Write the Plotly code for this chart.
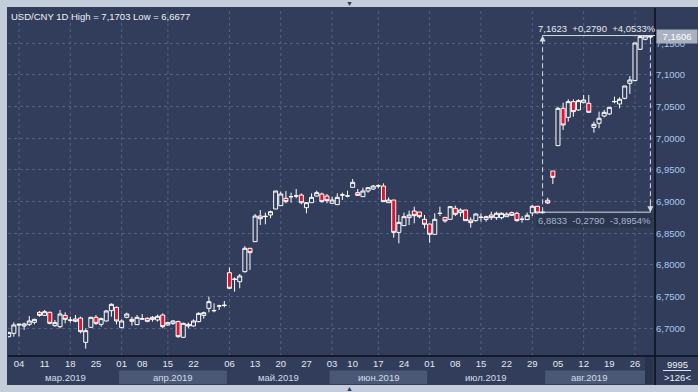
import pandas as pd
import plotly.graph_objects as go

# ---------------- data ----------------
holidays = ["2019-04-05", "2019-05-01", "2019-05-02", "2019-05-03", "2019-06-07"]
dates = [d.strftime("%Y-%m-%d") for d in pd.bdate_range("2019-02-28", "2019-08-29")
         if d.strftime("%Y-%m-%d") not in holidays]

opens = [6.6866, 6.6919, 6.7050, 6.7035, 6.7061, 6.7093, 6.7251, 6.7203, 6.7251, 6.7040,
         6.7024, 6.7203, 6.7130, 6.7146, 6.7161, 6.6777, 6.7014, 6.7172, 6.7061, 6.7114,
         6.7277, 6.7330, 6.7009, 6.7172, 6.7140, 6.7056, 6.7151, 6.7156, 6.7140, 6.7130,
         6.7209, 6.7051, 6.7077, 6.7104, 6.6856, 6.7061, 6.7035, 6.7104, 6.7203, 6.7314,
         6.7280, 6.7352, 6.7360, 6.7877, 6.7770, 6.7735, 6.7893, 6.8262, 6.8367, 6.8772,
         6.8762, 6.8788, 6.8883, 6.8936, 6.9052, 6.9078, 6.9088, 6.9104, 6.8904, 6.8983,
         6.9088, 6.9120, 6.9088, 6.8973, 6.8952, 6.9104, 6.9088, 6.9225, 6.9141, 6.9078,
         6.9167, 6.9199, 6.9246, 6.9246, 6.8983, 6.9025, 6.8514, 6.8620, 6.8746, 6.8851,
         6.8836, 6.8720, 6.8646, 6.8483, 6.8815, 6.8751, 6.8720, 6.8894, 6.8825, 6.8867,
         6.8709, 6.8699, 6.8751, 6.8720, 6.8788, 6.8746, 6.8746, 6.8762, 6.8825, 6.8815,
         6.8720, 6.8715, 6.8820, 6.8926, 6.8820, 6.9021, 6.9483, 6.9884, 7.0473, 7.0331,
         7.0579, 7.0447, 7.0563, 7.0553, 7.0173, 7.0237, 7.0352, 7.0384, 7.0579, 7.0542,
         7.0631, 7.0868, 7.0911, 7.1406, 7.1564, 7.1600]
highs = [6.6945, 6.7093, 6.7072, 6.7088, 6.7193, 6.7151, 6.7272, 6.7288, 6.7261, 6.7130,
         6.7288, 6.7251, 6.7182, 6.7209, 6.7182, 6.6998, 6.7182, 6.7209, 6.7167, 6.7288,
         6.7393, 6.7340, 6.7140, 6.7245, 6.7182, 6.7209, 6.7224, 6.7172, 6.7193, 6.7214,
         6.7235, 6.7104, 6.7130, 6.7119, 6.7088, 6.7088, 6.7140, 6.7251, 6.7261, 6.7498,
         6.7393, 6.7372, 6.7430, 6.7962, 6.7803, 6.7856, 6.8298, 6.8262, 6.8804, 6.8867,
         6.8825, 6.8857, 6.9167, 6.9157, 6.9167, 6.9141, 6.9199, 6.9130, 6.8983, 6.9130,
         6.9172, 6.9141, 6.9120, 6.9078, 6.9130, 6.9141, 6.9172, 6.9357, 6.9199, 6.9220,
         6.9220, 6.9262, 6.9273, 6.9288, 6.9067, 6.9025, 6.8788, 6.8825, 6.8857, 6.8920,
         6.8836, 6.8788, 6.8646, 6.8815, 6.8920, 6.8751, 6.8930, 6.8936, 6.8894, 6.8867,
         6.8751, 6.8815, 6.8815, 6.8778, 6.8841, 6.8841, 6.8830, 6.8830, 6.8841, 6.8841,
         6.8773, 6.8825, 6.8946, 6.8930, 6.8880, 6.9062, 6.9483, 7.0500, 7.0563, 7.0616,
         7.0616, 7.0616, 7.0684, 7.0684, 7.0263, 7.0421, 7.0447, 7.0489, 7.0658, 7.0647,
         7.0826, 7.0984, 7.1506, 7.1632, 7.1627, 7.1621]
lows = [6.6856, 6.6866, 6.6870, 6.6972, 6.7035, 6.7061, 6.7182, 6.7193, 6.7061, 6.7024,
        6.6998, 6.7077, 6.7088, 6.7093, 6.6919, 6.6677, 6.7009, 6.7051, 6.7024, 6.7104,
        6.7182, 6.7061, 6.6998, 6.7156, 6.7040, 6.7051, 6.7130, 6.7093, 6.7104, 6.7104,
        6.6998, 6.7040, 6.7051, 6.6851, 6.6851, 6.6998, 6.7024, 6.7093, 6.7151, 6.7251,
        6.7251, 6.7288, 6.7330, 6.7620, 6.7577, 6.7630, 6.7877, 6.7920, 6.8367, 6.8630,
        6.8641, 6.8736, 6.8883, 6.8930, 6.8973, 6.8983, 6.9051, 6.8957, 6.8815, 6.8983,
        6.9078, 6.8983, 6.8973, 6.8973, 6.8952, 6.9025, 6.9067, 6.9225, 6.9088, 6.9078,
        6.9141, 6.9183, 6.9209, 6.8999, 6.8983, 6.8430, 6.8341, 6.8620, 6.8630, 6.8657,
        6.8736, 6.8578, 6.8351, 6.8483, 6.8773, 6.8667, 6.8720, 6.8773, 6.8762, 6.8699,
        6.8588, 6.8683, 6.8683, 6.8683, 6.8709, 6.8709, 6.8720, 6.8762, 6.8773, 6.8683,
        6.8667, 6.8709, 6.8773, 6.8788, 6.8800, 6.8962, 6.9278, 6.9884, 7.0131, 7.0263,
        7.0342, 7.0437, 7.0553, 7.0410, 7.0089, 7.0158, 7.0331, 7.0368, 7.0553, 7.0473,
        7.0616, 7.0700, 7.0900, 7.1395, 7.1548, 7.1564]
closes = [6.6930, 6.7051, 6.7062, 6.7067, 6.7114, 6.7140, 6.7203, 6.7261, 6.7077, 6.7088,
          6.7224, 6.7140, 6.7125, 6.7109, 6.6945, 6.6961, 6.7172, 6.7077, 6.7151, 6.7272,
          6.7377, 6.7114, 6.7114, 6.7224, 6.7109, 6.7172, 6.7146, 6.7109, 6.7172, 6.7188,
          6.7024, 6.7088, 6.7114, 6.6866, 6.7077, 6.7035, 6.7114, 6.7235, 6.7245, 6.7419,
          6.7277, 6.7351, 6.7362, 6.7630, 6.7775, 6.7825, 6.8262, 6.8193, 6.8772, 6.8730,
          6.8767, 6.8841, 6.9167, 6.9120, 6.8999, 6.9077, 6.9090, 6.8983, 6.8983, 6.9067,
          6.9141, 6.8999, 6.9015, 6.9025, 6.9067, 6.9105, 6.9090, 6.9304, 6.9099, 6.9167,
          6.9220, 6.9246, 6.9249, 6.8999, 6.9025, 6.8514, 6.8672, 6.8762, 6.8788, 6.8778,
          6.8762, 6.8641, 6.8483, 6.8720, 6.8814, 6.8694, 6.8920, 6.8799, 6.8867, 6.8699,
          6.8667, 6.8804, 6.8752, 6.8762, 6.8746, 6.8815, 6.8815, 6.8804, 6.8783, 6.8699,
          6.8721, 6.8784, 6.8926, 6.8820, 6.8833, 6.8978, 6.9383, 7.0473, 7.0210, 7.0579,
          7.0421, 7.0595, 7.0605, 7.0410, 7.0221, 7.0316, 7.0410, 7.0489, 7.0580, 7.0616,
          7.0826, 7.0921, 7.1506, 7.1606, 7.1616, 7.1606]

tick_dates = ["2019-03-04", "2019-03-11", "2019-03-18", "2019-03-25", "2019-04-01",
              "2019-04-08", "2019-04-15", "2019-04-22", "2019-05-06", "2019-05-13",
              "2019-05-20", "2019-05-27", "2019-06-03", "2019-06-10", "2019-06-17",
              "2019-06-24", "2019-07-01", "2019-07-08", "2019-07-15", "2019-07-22",
              "2019-07-29", "2019-08-05", "2019-08-12", "2019-08-19", "2019-08-26"]
tick_labels = ["04", "11", "18", "25", "01", "08", "15", "22", "06", "13", "20", "27",
               "03", "10", "17", "24", "01", "08", "15", "22", "29", "05", "12", "19", "26"]

month_labels = ["мар.2019", "апр.2019", "май.2019", "июн.2019", "июл.2019", "авг.2019"]
month_starts = ["2019-03-01", "2019-04-01", "2019-05-06", "2019-06-03", "2019-07-01", "2019-08-01"]

y_ticks = [6.70, 6.75, 6.80, 6.85, 6.90, 6.95, 7.00, 7.05, 7.10, 7.15]

title_text = "USD/CNY 1D High = 7,1703 Low = 6,6677"
last_price = 7.1606
measure_dates = ["2019-07-31", "2019-08-29"]
measure_prices = [6.8833, 7.1623]
corner_top = "9995"

# ---------------- helpers ----------------
W, H = 698, 392
ML, MR, MT, MB = 8, 43, 8, 36
PW, PH = W - ML - MR, H - MT - MB


def px(xp):
    return (xp - ML) / PW


def py(yp):
    return (H - MB - yp) / PH


def fmt(v, sign=False):
    s = f"{v:+.4f}" if sign else f"{v:.4f}"
    return s.replace(".", ",")


idx = {d: i for i, d in enumerate(dates)}
xs = list(range(len(dates)))
tickvals = [idx[d] for d in tick_dates]
grid_vals = tickvals[::2]
x_max = 125.9

PANEL = "#313d5a"
FRAME = "#c4cdda"
GRID = "#52617f"
LIGHTBAND = "#4a5875"
FONT = "Liberation Sans, Arial, sans-serif"

fig = go.Figure()
fig.add_trace(go.Candlestick(
    x=xs, open=opens, high=highs, low=lows, close=closes,
    increasing=dict(line=dict(color="#ffffff", width=1), fillcolor=PANEL),
    decreasing=dict(line=dict(color="#ffffff", width=1), fillcolor="#e3122f"),
    whiskerwidth=0, hoverinfo="skip", showlegend=False,
))

shapes = []
# dark panel
shapes.append(dict(type="rect", xref="paper", yref="paper", x0=px(7), x1=px(W), y0=py(385), y1=py(7),
                   fillcolor=PANEL, line=dict(width=0), layer="below"))
# month bands
starts = [idx[m] for m in month_starts] + [len(dates)]
for k in range(len(month_labels)):
    if k % 2 == 1:
        shapes.append(dict(type="rect", xref="x", yref="paper", x0=starts[k] - 0.5, x1=starts[k + 1] - 0.5,
                           y0=py(384), y1=py(370.5), fillcolor=LIGHTBAND, line=dict(width=0), layer="below"))
# scroll strip
shapes.append(dict(type="rect", xref="paper", yref="paper", x0=px(645), x1=px(653), y0=py(384), y1=py(357),
                   fillcolor="#28334d", line=dict(width=0), layer="below"))
# vertical grid lines
for g in grid_vals:
    shapes.append(dict(type="line", xref="x", yref="paper", x0=g, x1=g, y0=0, y1=1,
                       line=dict(color=GRID, width=1, dash="3px,3px"), layer="below"))
# black separators
shapes.append(dict(type="line", xref="paper", yref="paper", x0=0, x1=px(W), y0=0, y1=0,
                   line=dict(color="#0a0f1a", width=1.5)))
shapes.append(dict(type="line", xref="paper", yref="paper", x0=1, x1=1, y0=py(385), y1=1,
                   line=dict(color="#0a0f1a", width=1.5)))
# corner underline
shapes.append(dict(type="line", xref="paper", yref="paper", x0=px(663), x1=px(691), y0=py(370.5), y1=py(370.5),
                   line=dict(color="#dfe6f0", width=1)))

# measure tool
mx0, mx1 = idx[measure_dates[0]], idx[measure_dates[1]]
p0, p1 = measure_prices
MC = "#d6dae2"
shapes.append(dict(type="line", xref="x", yref="y", x0=mx0, x1=x_max, y0=p1, y1=p1, line=dict(color=MC, width=1)))
shapes.append(dict(type="line", xref="x", yref="y", x0=mx0, x1=mx1, y0=p0, y1=p0, line=dict(color=MC, width=1)))
shapes.append(dict(type="line", xref="x", yref="y", x0=mx0, x1=mx0, y0=p0, y1=p1,
                   line=dict(color=MC, width=1, dash="5px,3px")))
shapes.append(dict(type="line", xref="x", yref="y", x0=mx1, x1=mx1, y0=p0, y1=p1,
                   line=dict(color=MC, width=1, dash="5px,3px")))

annotations = []
annotations.append(dict(xref="paper", yref="paper", x=0, y=1, xanchor="left", yanchor="top", xshift=1, yshift=-1,
                        text=title_text, showarrow=False, font=dict(family=FONT, size=9.5, color="#eef1f6")))
# month labels
for k, lab in enumerate(month_labels):
    first = starts[k]
    last = min(starts[k + 1] - 1, mx1 - 4)
    annotations.append(dict(xref="x", yref="paper", x=(first + last) / 2, y=py(377),
                            xanchor="center", yanchor="middle",
                            text=lab, showarrow=False, font=dict(family=FONT, size=9.5, color="#d4dcea")))
# corner box
annotations.append(dict(xref="paper", yref="paper", x=px(677), y=py(364.5), xanchor="center", yanchor="middle",
                        text=corner_top, showarrow=False, font=dict(family=FONT, size=9.5, color="#eef1f6")))
annotations.append(dict(xref="paper", yref="paper", x=px(677), y=py(377.5), xanchor="center", yanchor="middle",
                        text=f"&gt;{len(dates)}&lt;", showarrow=False,
                        font=dict(family=FONT, size=9.5, color="#eef1f6")))
# last price tag
annotations.append(dict(xref="paper", yref="y", x=1, y=last_price, xanchor="left", yanchor="middle", xshift=1,
                        text=fmt(last_price), showarrow=False, bgcolor="#a9b2c1", borderpad=1,
                        width=38, font=dict(family=FONT, size=9.5, color="#ffffff")))
# measure labels
d = p1 - p0
sp = "\u00a0\u00a0"
annotations.append(dict(xref="x", yref="y", x=mx0, y=p1, xanchor="left", yanchor="bottom", xshift=-7, yshift=0,
                        text=f"{fmt(p1)}{sp}{fmt(d, True)}{sp}{fmt(d / p0 * 100, True)}%",
                        showarrow=False, font=dict(family=FONT, size=9.5, color="#e6e9ef")))
annotations.append(dict(xref="x", yref="y", x=mx0, y=p0, xanchor="left", yanchor="top", xshift=-7, yshift=-1,
                        text=f"{fmt(p0)}{sp}{fmt(-d, True)}{sp}{fmt(-d / p1 * 100, True)}%",
                        showarrow=False, bgcolor="rgba(42,52,76,0.85)",
                        font=dict(family=FONT, size=9.5, color="#a6b6cf")))
annotations.append(dict(xref="x", yref="y", x=mx0, y=p1, ax=0, ay=10, text="", showarrow=True,
                        arrowhead=2, arrowsize=1.2, arrowwidth=1, arrowcolor=MC))
annotations.append(dict(xref="x", yref="y", x=mx1, y=p0, ax=0, ay=-10, text="", showarrow=True,
                        arrowhead=2, arrowsize=1.2, arrowwidth=1, arrowcolor=MC))
# frame handles
annotations.append(dict(xref="paper", yref="paper", x=px(349), y=py(3.5), xanchor="center", yanchor="middle",
                        text="▼", showarrow=False, font=dict(size=7, color="#2c3650")))
annotations.append(dict(xref="paper", yref="paper", x=px(349), y=py(388.5), xanchor="center", yanchor="middle",
                        text="▲", showarrow=False, font=dict(size=7, color="#2c3650")))

fig.update_layout(
    template="none",
    width=W, height=H, margin=dict(l=ML, r=MR, t=MT, b=MB, autoexpand=False),
    paper_bgcolor=FRAME, plot_bgcolor=PANEL,
    separators=", ", boxgap=0.22, boxgroupgap=0,
    showlegend=False, hovermode=False,
    shapes=shapes, annotations=annotations,
    xaxis=dict(range=[-0.14, x_max], tickmode="array", tickvals=tickvals, ticktext=tick_labels,
               showgrid=False, zeroline=False, showline=False, ticks="", automargin=False,
               tickfont=dict(family=FONT, size=9.5, color="#e2e8f2"),
               rangeslider=dict(visible=False), fixedrange=True),
    yaxis=dict(side="right", range=[6.6561, 7.2058], tickmode="array", tickvals=y_ticks,
               tickformat=".4f", showgrid=True, gridcolor=GRID, griddash="3px,3px", gridwidth=1,
               zeroline=False, showline=False, ticks="", automargin=False,
               tickfont=dict(family=FONT, size=9.5, color="#aac8ee"), fixedrange=True),
)

fig.write_html("out.html", config={"displayModeBar": False},
               post_script="document.body.style.margin='0';document.body.style.padding='0';"
                           "document.body.style.overflow='hidden';")
